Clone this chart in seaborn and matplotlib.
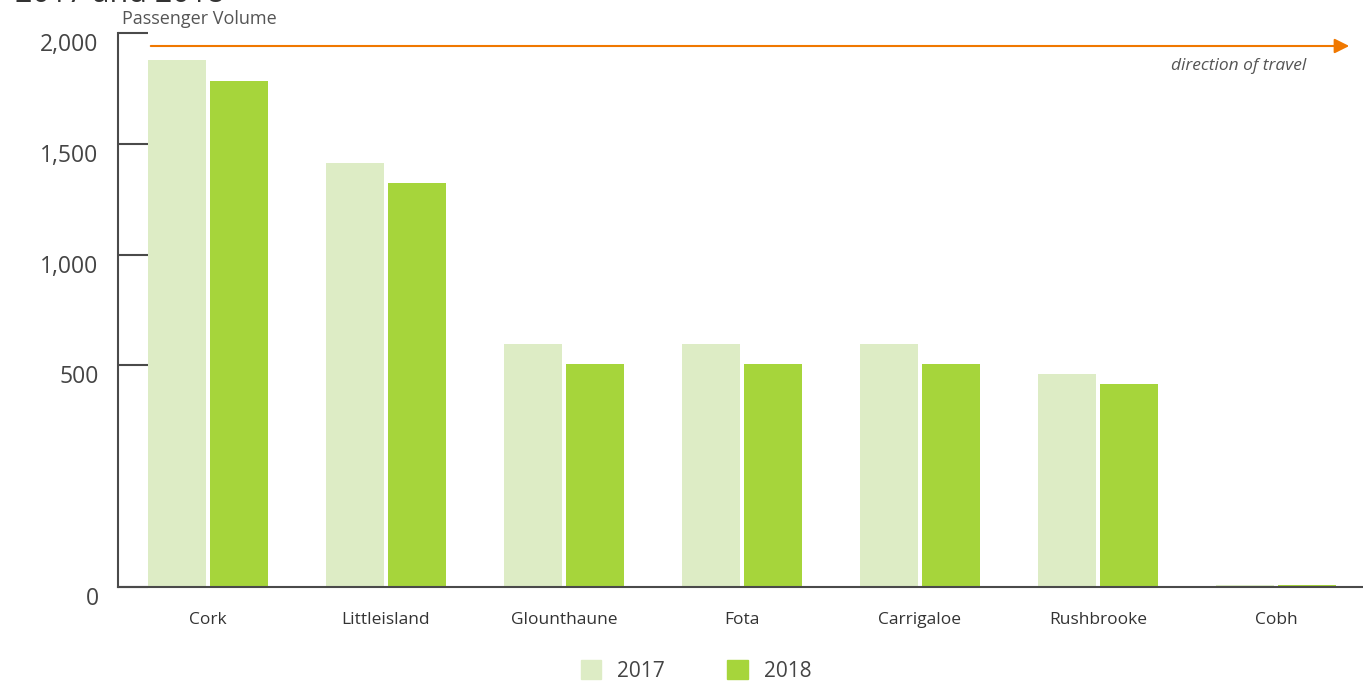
import numpy as np
import pandas as pd
import matplotlib
matplotlib.use("Agg")
import matplotlib.pyplot as plt
import seaborn as sns
from matplotlib.patches import Patch

stations = ['Cork', 'Littleisland', 'Glounthaune', 'Fota', 'Carrigaloe', 'Rushbrooke', 'Cobh']
pax_2017 = [1878, 1414, 595, 595, 595, 480, 4]
pax_2018 = [1783, 1324, 505, 505, 505, 459, 4]
years = ['2017', '2018']
y_ticks = [0, 500, 1000, 1500, 2000]
y_labels = ['0', '500', '1,000', '1,500', '2,000']

df = pd.DataFrame({
    'station': stations * 2,
    'year': ['2017'] * len(stations) + ['2018'] * len(stations),
    'pax': pax_2017 + pax_2018,
})

sns.set_style('white')
plt.rcParams['font.family'] = ['Open Sans', 'DejaVu Sans']

light = '#ddecc5'
green = '#a6d53b'
grey = '#4a4a4a'
txt = '#444444'

fig = plt.figure(figsize=(13.63, 6.86), dpi=100)
ax = fig.add_axes([118 / 1363, 1 - 587 / 686, 1 - 118 / 1363, (587 - 33) / 686])

sns.barplot(data=df, x='station', y='pax', hue='year', palette=[light, green],
            width=0.697, gap=0.065, linewidth=0, saturation=1, ax=ax, legend=False)


# the original axis gives 0-500 twice the room of each later step
def fwd(v):
    v = np.asarray(v, dtype=float)
    return np.where(v <= 500, v / 250, 2 + (v - 500) / 500)


def inv(u):
    u = np.asarray(u, dtype=float)
    return np.where(u <= 2, u * 250, 500 + (u - 2) * 500)


ax.set_yscale('function', functions=(fwd, inv))
ax.set_ylim(0, 2000)
ax.set_xlim(-0.506, 6.489)
ax.set_yticks(y_ticks, y_labels, va='top')
ax.tick_params(axis='y', left=True, direction='in', length=21.6, width=1.5, color=grey,
               labelsize=16.5, labelcolor=txt, pad=14)
ax.tick_params(axis='x', length=0, labelsize=12.5, labelcolor='#333333', pad=18)
ax.set_xlabel('')
ax.set_ylabel('')
for s in ['top', 'right']:
    ax.spines[s].set_visible(False)
for s in ['left', 'bottom']:
    ax.spines[s].set_color(grey)
    ax.spines[s].set_linewidth(1.5)

fig.text(122 / 1363, 1 - 19 / 686, 'Passenger Volume', fontsize=13, color='#555555',
         va='center', ha='left')
fig.text(15 / 1363, 1 - 2 / 686, '2017 and 2018', fontsize=22, color='#333333',
         va='baseline', ha='left')

ax.annotate('', xy=(1352 / 1363, 1 - 46 / 686), xytext=(148 / 1363, 1 - 46 / 686),
            xycoords='figure fraction', textcoords='figure fraction',
            arrowprops=dict(arrowstyle='-|>', color='#f07800', lw=1.5, mutation_scale=22))
fig.text(1306 / 1363, 1 - 66 / 686, 'direction of travel', fontsize=12.5, style='italic',
         color='#555555', ha='right', va='center')

handles = [Patch(color=light), Patch(color=green)]
fig.legend(handles, years, loc='center', bbox_to_anchor=(696 / 1363, 15 / 686), ncol=2,
           frameon=False, fontsize=15, labelcolor=txt, handlelength=1.0, handleheight=1.0,
           columnspacing=3.0, handletextpad=0.75)

plt.savefig('out.png', dpi=100)
